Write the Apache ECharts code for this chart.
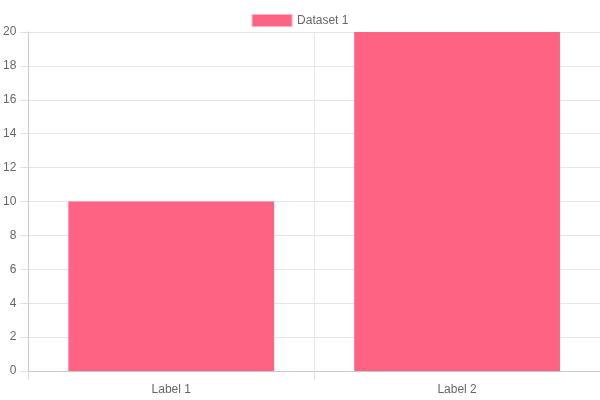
<!DOCTYPE html>
<html>
<head>
<meta charset="utf-8">
<script src="https://cdn.jsdelivr.net/npm/echarts@6/dist/echarts.min.js"></script>
<style>
    html, body { margin: 0; padding: 0; background: #fff; }
    #chart { width: 600px; height: 400px; }
</style>
</head>
<body>
<div id="chart"></div>
<script>
var categories = ['Label 1', 'Label 2'];
var dataset1 = [10, 20];
var seriesName = 'Dataset 1';

var myChart = echarts.init(document.getElementById('chart'));
var option = {
    animation: false,
    textStyle: { fontFamily: 'Liberation Sans, Arial, sans-serif' },
    legend: {
        data: [seriesName],
        top: 9,
        left: 'center',
        itemWidth: 40,
        itemHeight: 12,
        itemGap: 10,
        icon: 'rect',
        itemStyle: { borderColor: '#ffb1c1', borderWidth: 1 },
        textStyle: { color: '#666', fontSize: 12 }
    },
    grid: { left: 28, right: 0, top: 32, bottom: 29, containLabel: false },
    xAxis: {
        type: 'category',
        data: categories,
        axisLine: { show: true, lineStyle: { color: '#c8c8c8' } },
        axisTick: { show: true, length: 9, lineStyle: { color: '#e0e0e0' } },
        axisLabel: { color: '#666', fontSize: 12, margin: 13 },
        splitLine: { show: true, lineStyle: { color: '#e5e5e5' } }
    },
    yAxis: {
        type: 'value',
        min: 0,
        max: 20,
        interval: 2,
        axisLine: { show: true, lineStyle: { color: '#c8c8c8' } },
        axisTick: { show: true, length: 8, lineStyle: { color: '#e0e0e0' } },
        axisLabel: { color: '#666', fontSize: 12, margin: 12 },
        splitLine: { show: true, lineStyle: { color: '#e5e5e5' } }
    },
    series: [{
        name: seriesName,
        type: 'bar',
        data: dataset1,
        barCategoryGap: '28%',
        itemStyle: { color: '#ff6384' }
    }]
};
myChart.setOption(option);
</script>
</body>
</html>
